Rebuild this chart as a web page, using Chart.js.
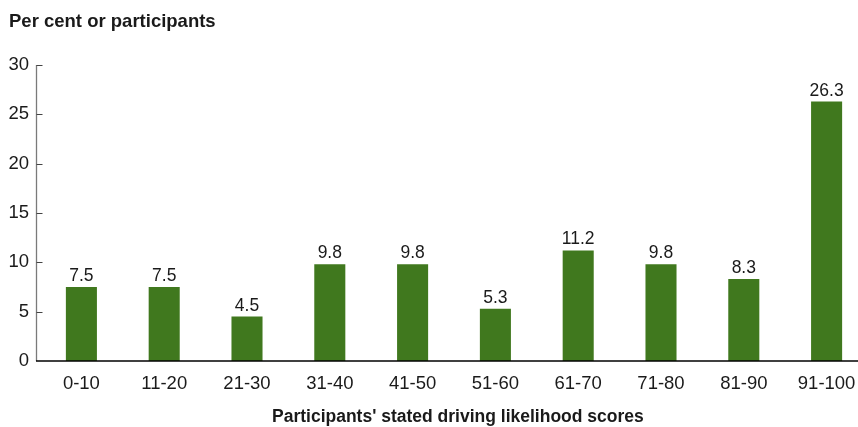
<!DOCTYPE html>
<html>
<head>
<meta charset="utf-8">
<script src="https://cdn.jsdelivr.net/npm/chart.js@4"></script>
<style>
  html, body { margin: 0; padding: 0; background: #fff; overflow: hidden; }
  #wrap { width: 868px; height: 427px; }
</style>
</head>
<body>
<div id="wrap"><canvas id="chart" width="868" height="427"></canvas></div>
<script>
// Share of participants by stated driving likelihood score band
const categories = ['0-10', '11-20', '21-30', '31-40', '41-50', '51-60', '61-70', '71-80', '81-90', '91-100'];
const percentValues = [7.5, 7.5, 4.5, 9.8, 9.8, 5.3, 11.2, 9.8, 8.3, 26.3];
const yTicks = [0, 5, 10, 15, 20, 25, 30];

const FONT = '"Liberation Sans", Arial, Helvetica, sans-serif';
const BAR_COLOR = '#40781E';
const TEXT_COLOR = '#1a1a1a';

// Axis lines with inward tick marks, drawn a little left of the plot area
const axesPlugin = {
  id: 'axes',
  afterDraw(chart) {
    const ctx = chart.ctx;
    const y = chart.scales.y;
    const area = chart.chartArea;
    const axisX = area.left - 3.5;
    ctx.save();
    ctx.lineWidth = 1.3;
    ctx.strokeStyle = '#7a7a7a';
    ctx.beginPath();
    ctx.moveTo(axisX, y.getPixelForValue(yTicks[yTicks.length - 1]));
    ctx.lineTo(axisX, y.getPixelForValue(0));
    ctx.stroke();
    ctx.strokeStyle = '#444444';
    ctx.lineWidth = 1;
    yTicks.slice(1).forEach(v => {
      const py = Math.round(y.getPixelForValue(v)) + 0.5;
      ctx.beginPath();
      ctx.moveTo(axisX, py);
      ctx.lineTo(axisX + 6, py);
      ctx.stroke();
    });
    ctx.strokeStyle = '#000000';
    ctx.lineWidth = 1.3;
    const baseY = y.getPixelForValue(0);
    ctx.beginPath();
    ctx.moveTo(axisX - 0.5, baseY);
    ctx.lineTo(chart.width, baseY);
    ctx.stroke();
    ctx.restore();
  }
};

// Value labels above each bar and the two chart titles
const labelsPlugin = {
  id: 'labels',
  afterDatasetsDraw(chart) {
    const ctx = chart.ctx;
    const meta = chart.getDatasetMeta(0);
    ctx.save();
    ctx.fillStyle = TEXT_COLOR;
    ctx.font = '17.5px ' + FONT;
    ctx.textAlign = 'center';
    ctx.textBaseline = 'alphabetic';
    meta.data.forEach((bar, i) => {
      ctx.fillText(percentValues[i].toFixed(1), bar.x, bar.y - 6);
    });
    ctx.restore();
  },
  afterDraw(chart) {
    const ctx = chart.ctx;
    ctx.save();
    ctx.fillStyle = TEXT_COLOR;
    ctx.textBaseline = 'alphabetic';
    ctx.textAlign = 'left';
    ctx.font = 'bold 18.5px ' + FONT;
    ctx.fillText('Per cent or participants', 9, 27);
    ctx.font = 'bold 17.5px ' + FONT;
    ctx.fillText("Participants' stated driving likelihood scores", 272, 421.5);
    ctx.restore();
  }
};

new Chart(document.getElementById('chart'), {
  type: 'bar',
  data: {
    labels: categories,
    datasets: [{
      data: percentValues,
      backgroundColor: BAR_COLOR,
      borderWidth: 0,
      barPercentage: 0.375,
      categoryPercentage: 1.0
    }]
  },
  options: {
    responsive: false,
    animation: false,
    devicePixelRatio: 1,
    layout: { padding: { top: 65, left: 0, right: 0, bottom: 0 } },
    plugins: {
      legend: { display: false },
      tooltip: { enabled: false },
      title: { display: false }
    },
    scales: {
      x: {
        type: 'category',
        offset: true,
        grid: { display: false, drawTicks: false },
        border: { display: false },
        ticks: {
          color: TEXT_COLOR,
          font: { family: FONT, size: 18.5 },
          padding: 12,
          maxRotation: 0,
          autoSkip: false
        },
        afterFit(scale) { scale.height = 66; }
      },
      y: {
        min: 0,
        max: 30,
        afterBuildTicks(scale) { scale.ticks = yTicks.map(v => ({ value: v })); },
        grid: { display: false, drawTicks: false },
        border: { display: false },
        ticks: {
          color: TEXT_COLOR,
          font: { family: FONT, size: 18.5 },
          padding: 11
        },
        afterFit(scale) { scale.width = 40; }
      }
    }
  },
  plugins: [axesPlugin, labelsPlugin]
});
</script>
</body>
</html>
